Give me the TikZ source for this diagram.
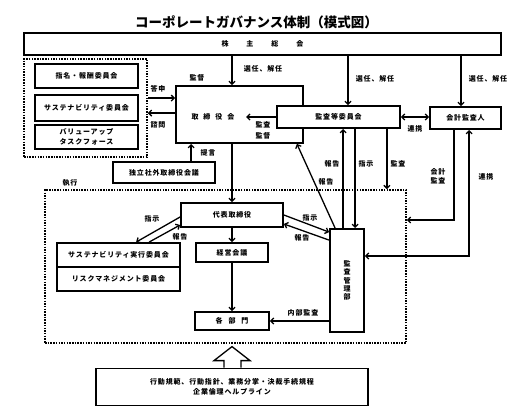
\documentclass[tikz,border=0pt]{standalone}
\usepackage{fontspec}
\usetikzlibrary{arrows.meta,calc}
\newfontfamily\jp{Noto Sans CJK JP}[LetterSpace=12]
\newfontfamily\jptitle{Noto Sans CJK JP}
\begin{document}
\begin{tikzpicture}[x=1pt,y=-1pt,
  box/.style={draw, line width=1.8pt, fill=white, inner sep=0pt, align=center,
    font=\jp\bfseries\fontsize{7}{9.5}\selectfont},
  dbox/.style={draw, line width=1.6pt, dash pattern=on 1.5pt off 1.2pt, inner sep=0pt},
  arr/.style={line width=1.3pt, -{Straight Barb[length=3pt,width=6pt]}},
  darr/.style={line width=1.3pt, {Straight Barb[length=3pt,width=6pt]}-{Straight Barb[length=3pt,width=6pt]}},
  lbl/.style={inner sep=0pt, align=center, font=\jp\bfseries\fontsize{7}{9.5}\selectfont}]
\useasboundingbox (0,0) rectangle (515,420);

\node[font=\jptitle\bfseries\fontsize{13.5}{14}\selectfont, inner sep=0pt] (title) at (256.5,22) {コーポレートガバナンス体制（模式図）};

% boxes
\node[box, minimum width=477pt, minimum height=22pt] (sh) at (262.5,44) {株\hspace{18pt}主\hspace{18pt}総\hspace{18pt}会};
\node[dbox, minimum width=123pt, minimum height=98pt] (ldot) at (85.5,108) {};
\node[box, minimum width=103pt, minimum height=24pt] (nom) at (86.5,76) {指名・報酬委員会};
\node[box, minimum width=103pt, minimum height=26pt] (sus) at (86.5,108) {サステナビリティ委員会};
\node[box, minimum width=103pt, minimum height=24pt] (val) at (86.5,137) {バリューアップ\\タスクフォース};
\node[box, minimum width=127pt, minimum height=57pt] (bod) at (239.5,114.5) {};
\node[lbl] (bodt) at (213,117) {取\hspace{5pt}締\hspace{5pt}役\hspace{5pt}会};
\node[box, minimum width=123pt, minimum height=22pt] (ac) at (338.5,117) {監査等委員会};
\node[box, minimum width=71pt, minimum height=22pt] (ext) at (465.5,118) {会計監査人};
\node[box, minimum width=102pt, minimum height=21pt] (ind) at (164,172.5) {独立社外取締役会議};
\node[dbox, minimum width=361pt, minimum height=153pt] (exec) at (225.5,266.5) {};
\node[box, minimum width=102pt, minimum height=24pt] (ceo) at (232,215) {代表取締役};
\node[box, minimum width=72pt, minimum height=19pt] (mgmt) at (232,252.5) {経営会議};
\node[box, minimum width=74pt, minimum height=18pt] (dept) at (232,321) {各\hspace{6pt}部\hspace{6pt}門};
\node[box, minimum width=123pt, minimum height=24pt] (sexec) at (118.5,255) {サステナビリティ実行委員会};
\node[box, minimum width=123pt, minimum height=24pt] (risk) at (118.5,279) {リスクマネジメント委員会};
\node[box, minimum width=34pt, minimum height=103pt, font=\jp\bfseries\fontsize{7}{8.4}\selectfont] (audit) at (347,280.5) {監\\査\\管\\理\\部};
\node[box, minimum width=272pt, minimum height=37pt, font=\jp\bfseries\fontsize{7}{10}\selectfont] (code) at (232,387) {行動規範、行動指針、業務分掌・決裁手続規程\\企業倫理ヘルプライン};

% helper coordinates
\coordinate (s2) at ($(ac.north)+(9.5,0)$);
\coordinate (s3) at ($(ext.north)+(-4.5,0)$);
\coordinate (bodin) at ($(ac.west)+(-30,0)$);
\coordinate (t1) at ($(bod.north west)+(0,13)$);
\coordinate (t2) at ($(bod.north west)+(0,28)$);
\coordinate (i1) at ($(ind.north west)+(79,0)$);
\coordinate (a1) at ($(audit.north west)+(14,0)$);
\coordinate (a2) at ($(audit.north west)+(26,0)$);
\coordinate (a3) at ($(ac.south east)+(-14,0)$);
\coordinate (e1) at ($(ext.south west)+(25,0)$);
\coordinate (e2) at ($(ext.south west)+(40,0)$);
\coordinate (k) at (0,220);
\coordinate (k2) at ($(audit.east)+(0,-24.5)$);

% connectors
\draw[arr] (sh.south -| ceo.north) -- (bod.north -| ceo.north);
\draw[arr] (s2 |- sh.south) -- (s2);
\draw[arr] (s3 |- sh.south) -- (s3);
\draw[darr] (ac.east) -- (ac.east -| ext.west);
\draw[arr] (ac.west) -- (bodin);
\draw[arr] (t1 -| ldot.east) -- (t1);
\draw[arr] (t2) -- (t2 -| ldot.east);
\draw[arr] (i1) -- (i1 |- bod.south);
\draw[arr] (bod.south -| ceo.north) -- (ceo.north);
\draw[arr] (ceo.south) -- (mgmt.north);
\draw[arr] (mgmt.south) -- (dept.north);
\draw[arr] ($(ceo.west)+(0,2)$) -- ($(sexec.north west)+(80,0)$);
\draw[arr] ($(sexec.north west)+(93,0)$) -- ($(ceo.west)+(0,10)$);
\draw[arr] (ceo.east) -- ($(audit.north west)+(0,4)$);
\draw[arr] ($(audit.north west)+(0,12)$) -- ($(ceo.east)+(0,9)$);
\draw[arr] ($(audit.north west)+(6,0)$) -- ($(bod.south east)+(-7,0)$);
\draw[arr] (a1) -- (a1 |- ac.south);
\draw[arr] (a2 |- ac.south) -- (a2);
\draw[arr] (a3) -- (a3 |- exec.north);
\draw[arr] (e1) -- (e1 |- k) -- (exec.east |- k);
\draw[darr] (k2) -| (e2);
\draw[arr] (audit.west |- dept.east) -- (dept.east);

% hollow arrow
\draw[line width=1.3pt, fill=white] ($(code.north)+(-8,0)$) -- ++(0,-7) -- ++(-10,0) -- ($(code.north)+(0,-21)$) -- ($(code.north)+(18,-7)$) -- ++(-9,0) -- ++(0,7);

% labels
\node[lbl] (l1) at (263,69) {選任、解任};
\node[lbl] (l2) at (197,78) {監督};
\node[lbl] (l3) at (375,79) {選任、解任};
\node[lbl] (l4) at (488,79) {選任、解任};
\node[lbl] (l5) at (158,89) {答申};
\node[lbl] (l6) at (158,125) {諮問};
\node[lbl, font=\jp\bfseries\fontsize{7}{11}\selectfont] (l7) at (263,130.5) {監査\\監督};
\node[lbl] (l8) at (415,129) {連携};
\node[lbl] (l9) at (208,153) {提言};
\node[lbl] (l10) at (332,164) {報告};
\node[lbl] (l11) at (366,164) {指示};
\node[lbl] (l12) at (398,164) {監査};
\node[lbl] (l13) at (326,182) {報告};
\node[lbl] (l14) at (438,176.5) {会計\\監査};
\node[lbl] (l15) at (486,177) {連携};
\node[lbl] (l16) at (70,183) {執行};
\node[lbl] (l17) at (152,219) {指示};
\node[lbl] (l18) at (180,237) {報告};
\node[lbl] (l19) at (310,218) {指示};
\node[lbl] (l20) at (302,238) {報告};
\node[lbl] (l21) at (303,313) {内部監査};
\end{tikzpicture}
\end{document}
